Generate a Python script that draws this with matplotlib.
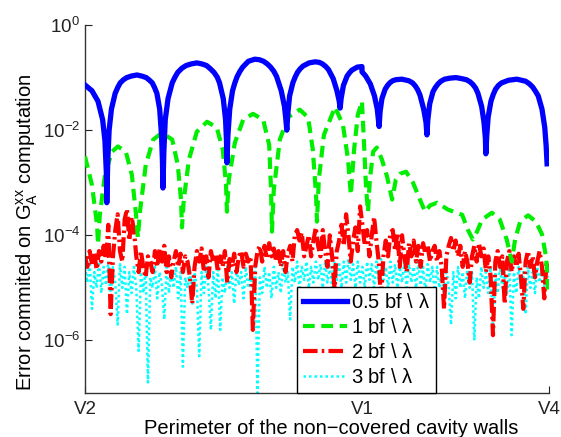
import numpy as np
import matplotlib
matplotlib.use('Agg')
import matplotlib.pyplot as plt

plt.rcParams['font.family'] = ['Liberation Sans', 'DejaVu Sans']
plt.rcParams['mathtext.fontset'] = 'custom'
plt.rcParams['mathtext.rm'] = 'Liberation Sans'
plt.rcParams['mathtext.it'] = 'Liberation Sans'
plt.rcParams['mathtext.default'] = 'regular'

# position along the perimeter (0 = V2, 1 = V4) and log10 of the error
tick_pos = [0.0, 0.597, 1.0]
tick_lab = ['V2', 'V1', 'V4']

blue_x = [0.000, 0.015, 0.028, 0.038, 0.043, 0.046, 0.047,
          0.049, 0.052, 0.057, 0.065, 0.071, 0.076, 0.083, 0.090, 0.100, 0.112, 0.122, 0.132, 0.139, 0.145, 0.150, 0.155, 0.161, 0.165, 0.167, 0.168,
          0.170, 0.173, 0.179, 0.188, 0.194, 0.200, 0.209, 0.218, 0.229, 0.241, 0.252, 0.262, 0.270, 0.278, 0.285, 0.290, 0.298, 0.303, 0.305, 0.306,
          0.308, 0.312, 0.318, 0.323, 0.328, 0.334, 0.340, 0.352, 0.366, 0.376, 0.385, 0.393, 0.400, 0.407, 0.413, 0.423, 0.430, 0.433, 0.435,
          0.437, 0.441, 0.448, 0.453, 0.458, 0.464, 0.470, 0.483, 0.496, 0.505, 0.512, 0.519, 0.525, 0.535, 0.543, 0.548, 0.550,
          0.552, 0.557, 0.565, 0.570, 0.575, 0.587, 0.597, 0.5971,
          0.605, 0.615, 0.624, 0.630, 0.634,
          0.636, 0.640, 0.647, 0.652, 0.657, 0.663, 0.670, 0.683, 0.698, 0.706, 0.712, 0.717, 0.722, 0.730, 0.735, 0.737,
          0.739, 0.743, 0.750, 0.755, 0.761, 0.767, 0.775, 0.787, 0.800, 0.812, 0.822, 0.830, 0.836, 0.842, 0.847, 0.855, 0.860, 0.863, 0.864,
          0.866, 0.869, 0.875, 0.880, 0.885, 0.891, 0.898, 0.913, 0.931, 0.950, 0.958, 0.965, 0.971, 0.977, 0.985, 0.991, 0.994, 0.996]
blue_e = [-1.14, -1.25, -1.45, -1.80, -2.20, -2.80, -3.38,
          -2.60, -2.00, -1.60, -1.30, -1.18, -1.10, -1.04, -1.00, -0.97, -0.95, -0.97, -1.00, -1.05, -1.10, -1.19, -1.30, -1.60, -2.10, -2.60, -3.10,
          -2.40, -1.80, -1.40, -1.10, -0.99, -0.90, -0.82, -0.77, -0.74, -0.72, -0.74, -0.77, -0.83, -0.90, -0.99, -1.10, -1.40, -1.80, -2.20, -2.62,
          -2.10, -1.60, -1.25, -1.10, -0.98, -0.88, -0.80, -0.69, -0.65, -0.66, -0.69, -0.74, -0.80, -0.88, -0.98, -1.25, -1.55, -1.80, -2.00,
          -1.70, -1.35, -1.10, -0.99, -0.90, -0.83, -0.78, -0.72, -0.70, -0.71, -0.74, -0.79, -0.85, -1.02, -1.25, -1.45, -1.58,
          -1.40, -1.15, -0.97, -0.91, -0.86, -0.80, -0.79, -0.89,
          -0.97, -1.12, -1.35, -1.60, -1.93,
          -1.65, -1.40, -1.22, -1.15, -1.10, -1.06, -1.04, -1.03, -1.06, -1.10, -1.16, -1.23, -1.33, -1.60, -1.85, -2.09,
          -1.80, -1.50, -1.27, -1.19, -1.12, -1.07, -1.03, -1.01, -1.00, -1.02, -1.04, -1.08, -1.13, -1.20, -1.30, -1.55, -1.85, -2.15, -2.45,
          -2.10, -1.75, -1.45, -1.32, -1.22, -1.15, -1.10, -1.05, -1.03, -1.07, -1.12, -1.18, -1.26, -1.35, -1.60, -1.95, -2.30, -2.64]

green_x = [0.000, 0.015, 0.026, 0.028, 0.032, 0.043, 0.058, 0.071, 0.088, 0.101, 0.110, 0.114,
           0.119, 0.131, 0.147, 0.166, 0.188, 0.200, 0.207, 0.209, 0.213, 0.224, 0.241, 0.263,
           0.284, 0.297, 0.304, 0.306, 0.310, 0.323, 0.341, 0.362, 0.384, 0.397, 0.401, 0.403,
           0.407, 0.420, 0.438, 0.463, 0.481, 0.491, 0.498, 0.500, 0.504, 0.515, 0.539, 0.556,
           0.567, 0.573, 0.580, 0.588, 0.597, 0.601, 0.606, 0.610, 0.614, 0.621, 0.629, 0.640,
           0.651, 0.662, 0.670, 0.679, 0.692, 0.707, 0.722, 0.733, 0.744, 0.759, 0.782, 0.813,
           0.825, 0.836, 0.845, 0.856, 0.877, 0.894, 0.909, 0.920, 0.927, 0.938, 0.955, 0.972,
           0.985, 0.994, 0.998]
green_e = [-2.50, -3.04, -3.80, -4.17, -3.61, -2.85, -2.41, -2.31, -2.41, -2.85, -3.61, -4.04,
           -3.51, -2.66, -2.18, -2.05, -2.18, -2.66, -3.32, -3.85, -3.32, -2.56, -2.03, -1.84,
           -1.95, -2.37, -3.04, -3.55, -2.94, -2.24, -1.80, -1.69, -1.80, -2.28, -3.13, -3.93,
           -3.13, -2.18, -1.75, -1.61, -1.76, -2.37, -3.23, -3.74, -2.94, -2.09, -1.56, -1.90,
           -2.56, -3.23, -2.37, -1.71, -1.45, -2.18, -3.13, -3.55, -2.94, -2.41, -2.33, -2.56,
           -2.88, -3.32, -2.94, -2.83, -2.79, -3.00, -3.32, -3.55, -3.43, -3.38, -3.51, -3.61,
           -3.89, -4.08, -3.93, -3.70, -3.57, -3.70, -4.08, -4.50, -4.08, -3.74, -3.62, -3.74,
           -3.98, -4.42, -5.03]

red_e = [-4.40, -4.60, -4.30, -4.55, -4.35, -4.65, -4.30, -4.50, -4.20, -4.45,
         -3.80, -5.50, -4.40, -3.90, -3.60, -4.30, -4.50, -3.70, -3.50, -4.10,
         -3.65, -3.90, -4.40, -4.70, -4.30, -4.60, -4.80, -4.40, -4.50, -4.70,
         -4.30, -4.60, -4.25, -4.50, -4.20, -4.70, -4.40, -4.80, -4.50, -4.30,
         -4.60, -4.35, -4.70, -4.40, -4.50, -4.80, -5.30, -4.60, -4.30, -4.50,
         -4.25, -4.70, -4.40, -4.80, -4.30, -4.50, -4.35, -4.70, -4.40, -4.60,
         -4.30, -4.90, -4.45, -4.60, -4.35, -4.70, -4.40, -4.30, -4.60, -4.35,
         -4.50, -4.40, -5.80, -4.60, -4.30, -4.20, -4.50, -4.20, -4.45, -4.15,
         -4.40, -4.25, -4.50, -4.30, -4.60, -4.30, -4.70, -4.35, -4.20, -4.50,
         -4.00, -3.90, -4.10, -3.95, -4.40, -4.20, -4.00, -4.40, -4.10, -3.85,
         -4.20, -4.40, -3.90, -4.30, -4.60, -4.00, -4.40, -5.00, -4.30, -4.10,
         -3.80, -4.20, -3.60, -4.00, -4.50, -4.10, -3.85, -4.30, -3.45, -3.80,
         -4.20, -3.90, -4.40, -4.00, -3.65, -4.10, -4.50, -5.20, -4.40, -4.10,
         -4.40, -3.95, -3.90, -4.30, -3.95, -4.60, -4.00, -4.40, -4.70, -4.15,
         -4.40, -4.10, -4.50, -4.20, -4.60, -4.15, -4.35, -4.20, -4.50, -4.30,
         -4.20, -4.50, -4.30, -4.60, -5.40, -4.40, -4.20, -4.05, -4.30, -4.10,
         -4.40, -4.20, -4.60, -4.30, -4.50, -4.90, -4.40, -4.20, -4.50, -4.15,
         -4.40, -4.25, -4.70, -4.40, -4.80, -5.90, -4.50, -4.30, -4.60, -4.40,
         -5.30, -4.50, -4.30, -4.70, -4.40, -4.60, -4.35, -4.80, -5.40, -4.50,
         -4.30, -4.60, -4.40, -4.80, -4.50, -4.30, -4.60, -5.20, -4.50, -4.70]

cyan_e = [-4.60, -4.90, -4.50, -5.40, -4.70, -5.00, -4.50, -5.10, -4.60, -4.95,
          -4.50, -5.20, -4.60, -4.90, -5.70, -4.55, -5.00, -4.60, -5.50, -4.70,
          -5.10, -4.60, -5.00, -6.20, -4.70, -5.10, -4.60, -6.80, -4.80, -5.00,
          -4.60, -5.20, -4.70, -4.95, -5.60, -4.60, -5.10, -4.70, -5.00, -4.60,
          -5.20, -4.70, -6.50, -4.80, -5.00, -4.60, -5.30, -4.70, -5.00, -6.30,
          -4.70, -5.10, -4.60, -5.00, -5.80, -4.70, -5.20, -4.60, -5.80, -4.80,
          -5.10, -4.60, -5.00, -4.70, -5.30, -4.60, -4.95, -4.70, -5.20, -4.60,
          -5.00, -4.70, -5.10, -4.60, -7.00, -4.80, -5.10, -4.60, -5.00, -4.70,
          -5.20, -4.60, -5.00, -4.70, -5.10, -4.55, -4.90, -4.70, -5.60, -4.60,
          -4.90, -4.50, -5.00, -4.60, -4.85, -4.50, -5.00, -4.60, -4.90, -4.50,
          -4.85, -4.55, -5.00, -4.50, -4.90, -4.60, -5.00, -4.50, -4.85, -4.55,
          -5.00, -4.50, -4.90, -4.45, -4.85, -4.55, -5.00, -4.50, -4.90, -4.60,
          -5.00, -4.50, -4.85, -4.55, -5.00, -4.50, -4.90, -4.45, -4.85, -4.60,
          -5.00, -4.50, -4.90, -4.55, -5.00, -4.60, -4.90, -4.50, -5.00, -4.55,
          -4.90, -4.60, -5.00, -4.50, -4.95, -4.60, -5.10, -4.55, -4.90, -4.60,
          -5.10, -4.60, -5.00, -4.70, -5.20, -4.60, -5.00, -5.70, -4.70, -5.20,
          -4.60, -5.00, -4.70, -5.20, -4.60, -5.00, -4.70, -6.00, -4.80, -5.20,
          -4.60, -5.00, -4.70, -5.10, -4.60, -5.90, -4.70, -5.10, -4.60, -5.00,
          -4.70, -5.10, -4.60, -5.90, -4.70, -5.10, -4.60, -5.00, -4.70, -5.50,
          -4.60, -5.00, -4.70, -5.10, -4.60, -4.90, -4.60, -5.00, -4.60, -4.80]

noise_x = np.linspace(0.0, 1.0, len(red_e))

fig = plt.figure(figsize=(5.61, 4.37), dpi=100)
ax = fig.add_axes([0.1515, 0.1007, 0.827, 0.842])

ax.plot(blue_x, 10.0**np.array(blue_e), color='#0000ff', lw=3.8, solid_joinstyle='round',
        label=r'0.5 bf \ $\lambda$', zorder=4)
ax.plot(green_x, 10.0**np.array(green_e), color='#00ee00', lw=3, dashes=(2.8, 1.6),
        label=r'1 bf \ $\lambda$', zorder=3)
ax.plot(noise_x, 10.0**np.array(red_e), color='#ff0000', lw=3, dashes=(3.5, 1.0, 0.6, 1.0),
        label=r'2 bf \ $\lambda$', zorder=2)
ax.plot(noise_x, 10.0**np.array(cyan_e), color='#00ffff', lw=1.8, dashes=(1.0, 1.2),
        label=r'3 bf \ $\lambda$', zorder=1)

ax.set_yscale('log')
ax.set_ylim(1e-7, 1e0)
ax.set_xlim(0, 1)
ax.set_yticks([1e-6, 1e-4, 1e-2, 1e0])
ax.yaxis.set_minor_locator(matplotlib.ticker.NullLocator())
ax.set_xticks(tick_pos)
ax.set_xticklabels(tick_lab)
ax.tick_params(direction='in', labelsize=13.5, length=5, width=0.8, colors='#222222')
ax.tick_params(axis='x', pad=6)
for s in ['top', 'right']:
    ax.spines[s].set_visible(False)
for s in ['left', 'bottom']:
    ax.spines[s].set_color('#333333')
    ax.spines[s].set_linewidth(1.0)

ax.set_xlabel('Perimeter of the non\u2212covered cavity walls', fontsize=14.5)
ax.xaxis.set_label_coords(0.53, -0.072)
ax.set_ylabel(r'Error commited on G$_A^{xx}$ computation', fontsize=14.5)
ax.yaxis.set_label_coords(-0.097, 0.4375)

leg = ax.legend(loc='lower left', bbox_to_anchor=(0.457, 0.0), fontsize=14.5, frameon=True,
                fancybox=False, edgecolor='black', framealpha=1, handlelength=2.2,
                borderpad=0.3, labelspacing=0.3, handletextpad=0.2, borderaxespad=0)
leg.get_frame().set_linewidth(1.0)

fig.savefig('out.png', dpi=100)
